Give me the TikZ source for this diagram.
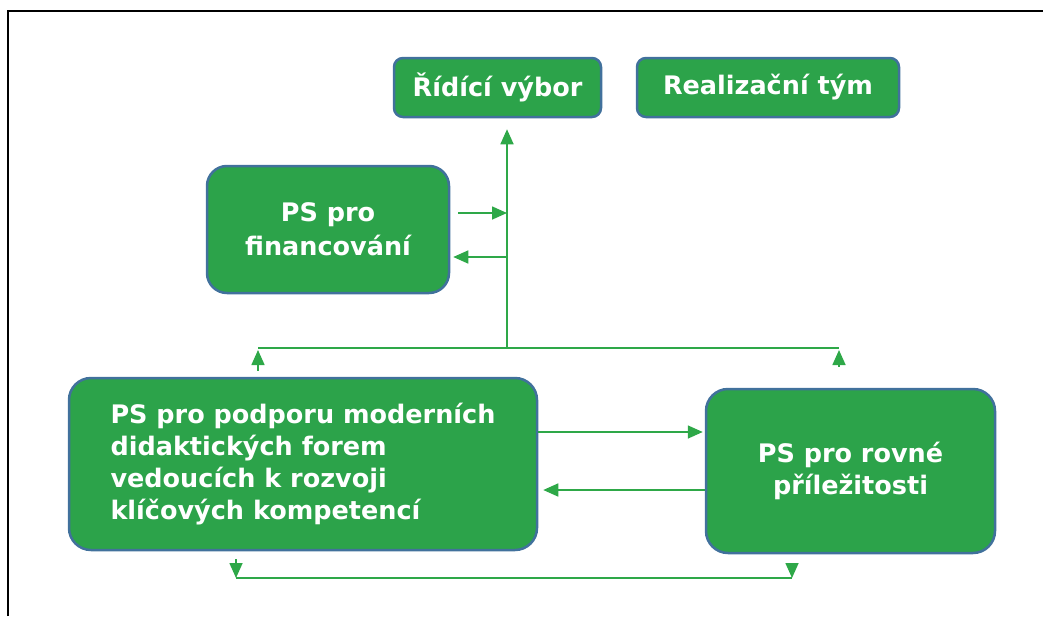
\documentclass[tikz,border=0pt]{standalone}
\usepackage{fontspec}
\setmainfont{DejaVu Sans}
\usepackage{tikz}
\usetikzlibrary{arrows.meta}

\definecolor{boxgreen}{RGB}{44,163,74}
\definecolor{boxedge}{RGB}{65,113,156}
\definecolor{linegreen}{RGB}{46,168,72}

\tikzset{
	box/.style = {draw=boxedge, line width=2.5pt, fill=boxgreen, text=white,
		font=\fontsize{25.5}{32}\selectfont\bfseries, align=center, inner sep=0pt},
	line/.style = {draw=linegreen, line width=1.6pt},
	link/.style = {line, -{Triangle[length=15pt,width=13pt]}}
}

\begin{document}
\begin{tikzpicture}[x=1pt,y=-1pt]
			%%Location
			\useasboundingbox (0,0) rectangle (1043,616);
			\draw[line width=2pt] (8,616) -- (8,11) -- (1043,11);
			
			%%Boxes
			\node[box, rounded corners=9pt, minimum width=207pt, minimum height=59pt] (rid) at (497.5,87.5) {Řídící výbor};
			\node[box, rounded corners=9pt, minimum width=262pt, minimum height=59pt] (real) at (768,87.5) {Realizační tým};
			\node[box, rounded corners=20pt, minimum width=242pt, minimum height=127pt] (fin) at (328,229.5) {PS pro\\[2pt] financování};
			\node[box, rounded corners=22pt, minimum width=468pt, minimum height=172pt, align=left] (podp) at (303,464) {PS pro podporu moderních\\ didaktických forem\\ vedoucích k rozvoji\\ klíčových kompetencí};
			\node[box, rounded corners=22pt, minimum width=289pt, minimum height=164pt] (rov) at (850.5,471) {PS pro rovné\\ příležitosti};
			
			%%Points
			\coordinate (hub) at (507,348);
			\coordinate (lt) at (258,348);
			\coordinate (rt) at (839,348);
			\coordinate (fa) at (507,213);
			\coordinate (fb) at (507,257);
			\coordinate (ma) at (620,432);
			\coordinate (mb) at (620,490);
			\coordinate (bl) at (236,578);
			\coordinate (br) at (792,578);
			
			%%Connectors
			\draw[link, shorten >=11pt] (hub) -- (hub |- rid.south);
			\draw[line] (lt) -- (rt);
			\draw[link, shorten <=6pt, shorten >=2pt] (podp.north -| lt) -- (lt);
			\draw[link, shorten <=21pt, shorten >=2pt] (rov.north -| rt) -- (rt);
			\draw[link, shorten <=8pt] (fin.east |- fa) -- (fa);
			\draw[link, shorten >=3pt] (fb) -- (fin.east |- fb);
			\draw[link, shorten >=2pt] (podp.east |- ma) -- (rov.west |- ma);
			\draw[link, shorten >=5pt] (rov.west |- mb) -- (podp.east |- mb);
			\draw[link, shorten <=8pt] (podp.south -| bl) -- (bl);
			\draw[link, shorten <=9pt] (rov.south -| br) -- (br);
			\draw[line] (bl) -- (br);
			
\end{tikzpicture}
\end{document}
